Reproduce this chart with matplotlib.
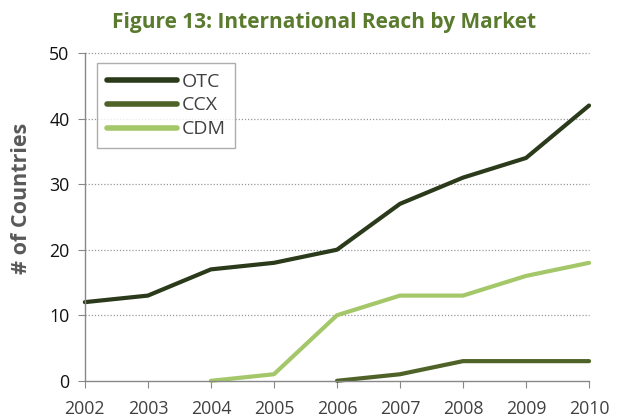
import matplotlib.pyplot as plt

years = [2002, 2003, 2004, 2005, 2006, 2007, 2008, 2009, 2010]
otc_years = years
otc = [12, 13, 17, 18, 20, 27, 31, 34, 42]
ccx_years = [2006, 2007, 2008, 2009, 2010]
ccx = [0, 1, 3, 3, 3]
cdm_years = [2004, 2005, 2006, 2007, 2008, 2009, 2010]
cdm = [0, 1, 10, 13, 13, 16, 18]

plt.rcParams['font.family'] = ['Open Sans', 'DejaVu Sans']

fig = plt.figure(figsize=(6.24, 4.18), dpi=100)
ax = fig.add_axes([0.136, 0.089, 0.808, 0.784])

ax.plot(otc_years, otc, color='#2b3a1a', lw=3.0, label='OTC', solid_capstyle='round')
ax.plot(ccx_years, ccx, color='#4f6228', lw=3.0, label='CCX', solid_capstyle='round')
ax.plot(cdm_years, cdm, color='#a4c76a', lw=3.0, label='CDM', solid_capstyle='round')

ax.set_xlim(2002, 2010)
ax.set_ylim(0, 50)
ax.set_xticks(years)
ax.set_xticklabels([str(y) for y in years], fontsize=12.8, color='#404040')
ax.set_yticks(range(0, 51, 10))
ax.tick_params(axis='y', labelsize=12.8, labelcolor='#111111', length=5, color='#888888', pad=6)
ax.tick_params(axis='x', length=5, color='#888888', pad=9)
for y in range(10, 51, 10):
    ax.axhline(y, color='#999999', lw=0.9, ls=(0, (1, 1.5)), zorder=0)
for s in ['top', 'right']:
    ax.spines[s].set_visible(False)
for s in ['left', 'bottom']:
    ax.spines[s].set_color('#888888')
    ax.spines[s].set_linewidth(1.0)
for ln in ax.lines:
    ln.set_clip_on(False)

ax.set_ylabel('# of Countries', fontsize=15.5, fontweight='bold', color='#595959')
ax.yaxis.set_label_coords(-0.104, 0.558)
fig.text(0.52, 0.945, 'Figure 13: International Reach by Market', ha='center', va='center',
         fontsize=15, fontweight='bold', color='#5a7a2e')

leg = ax.legend(loc='upper left', bbox_to_anchor=(0.024, 0.97), borderaxespad=0, fontsize=14,
                frameon=True, fancybox=False, edgecolor='#999999', handlelength=3.6,
                handletextpad=0.25, labelspacing=0.3, borderpad=0.5, labelcolor='#404040')
leg.get_frame().set_linewidth(1.0)
for h in leg.get_lines():
    h.set_linewidth(4)

fig.savefig('out.png', dpi=100)
